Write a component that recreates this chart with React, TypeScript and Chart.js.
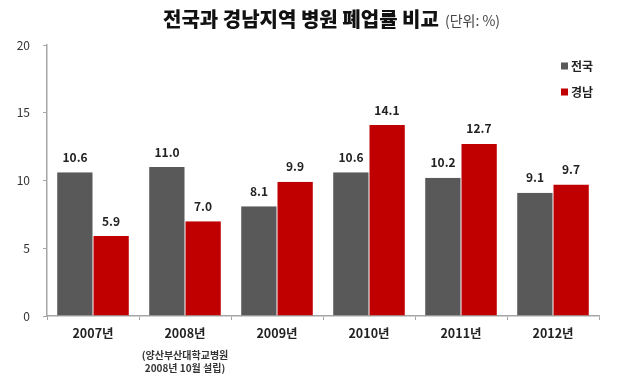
import React, { useEffect, useRef } from "react";
import { Chart, registerables } from "chart.js";

Chart.register(...registerables);

const categories = ["2007년", "2008년", "2009년", "2010년", "2011년", "2012년"];
const nationalValues = [10.6, 11.0, 8.1, 10.6, 10.2, 9.1];
const gyeongnamValues = [5.9, 7.0, 9.9, 14.1, 12.7, 9.7];
const seriesNames = ["전국", "경남"];
const yTicks = [0, 5, 10, 15, 20];
const titleText = "전국과 경남지역 병원 폐업률 비교";
const unitText = "(단위: %)";
const noteLines = ["(양산부산대학교병원", "2008년 10월 설립)"];

const GRAY = "#595959";
const RED = "#c00000";
const FONT = "'Noto Sans CJK KR', 'Noto Sans', sans-serif";

export default function App() {
  const ref = useRef<HTMLCanvasElement | null>(null);

  useEffect(() => {
    const canvas = ref.current;
    if (!canvas) return;

    const overlay = {
      id: "overlay",
      afterDatasetsDraw(chart: any) {
        const ctx = chart.ctx;
        ctx.save();
        // data labels
        ctx.font = `bold 12px ${FONT}`;
        ctx.fillStyle = "#222";
        ctx.textAlign = "center";
        ctx.textBaseline = "middle";
        chart.data.datasets.forEach((ds: any, di: number) => {
          const meta = chart.getDatasetMeta(di);
          meta.data.forEach((bar: any, i: number) => {
            ctx.fillText(Number(ds.data[i]).toFixed(1), bar.x, bar.y - 15);
          });
        });
        // title
        ctx.textAlign = "left";
        ctx.font = `900 20px ${FONT}`;
        ctx.fillStyle = "#111";
        ctx.fillText(titleText, 163, 19);
        const tw = ctx.measureText(titleText).width;
        ctx.font = `14px ${FONT}`;
        ctx.fillStyle = "#444";
        ctx.fillText(unitText, 163 + tw + 6, 21);
        // legend
        const colors = [GRAY, RED];
        seriesNames.forEach((name, i) => {
          const cy = 66 + i * 26;
          ctx.fillStyle = colors[i];
          ctx.fillRect(561, cy - 3.5, 7, 7);
          ctx.font = `bold 12px ${FONT}`;
          ctx.fillStyle = "#222";
          ctx.fillText(name, 571, cy);
        });
        // note under 2008
        const xs = chart.scales.x;
        const nx = xs.getPixelForValue(1);
        ctx.textAlign = "center";
        ctx.font = `bold 10px ${FONT}`;
        ctx.fillStyle = "#333";
        noteLines.forEach((line, i) => {
          ctx.fillText(line, nx, 355 + i * 13);
        });
        ctx.restore();
      },
    };

    const chart = new Chart(canvas, {
      type: "bar",
      data: {
        labels: categories,
        datasets: [
          {
            label: seriesNames[0],
            data: nationalValues,
            backgroundColor: GRAY,
            borderColor: "#ffffff",
            borderWidth: { left: 0, right: 0.5, top: 0, bottom: 0 } as any,
            categoryPercentage: 0.78,
            barPercentage: 1,
          },
          {
            label: seriesNames[1],
            data: gyeongnamValues,
            backgroundColor: RED,
            borderColor: "#ffffff",
            borderWidth: { left: 0.5, right: 0, top: 0, bottom: 0 } as any,
            categoryPercentage: 0.78,
            barPercentage: 1,
          },
        ],
      },
      options: {
        animation: false,
        responsive: false,
        maintainAspectRatio: false,
        layout: { padding: { top: 45, right: 31, left: 0, bottom: 0 } },
        plugins: {
          legend: { display: false },
          title: { display: false },
          tooltip: { enabled: false },
        },
        scales: {
          x: {
            grid: {
              display: true,
              drawOnChartArea: false,
              drawTicks: true,
              tickLength: 4,
              color: "#a6a6a6",
              offset: true,
            },
            border: { display: true, color: "#a6a6a6", width: 1.5 },
            ticks: {
              font: { family: FONT, size: 12.5, weight: "bold" },
              color: "#222",
              padding: 6,
              maxRotation: 0,
            },
            afterFit(scale: any) {
              scale.height = 71;
            },
          },
          y: {
            min: 0,
            max: 20,
            afterBuildTicks(scale: any) {
              scale.ticks = yTicks.map((v) => ({ value: v }));
            },
            grid: {
              display: true,
              drawOnChartArea: false,
              drawTicks: true,
              tickLength: 4,
              color: "#a6a6a6",
            },
            border: { display: true, color: "#a6a6a6", width: 1.5 },
            ticks: {
              font: { family: FONT, size: 12 },
              color: "#333",
              padding: 13,
            },
            afterFit(scale: any) {
              scale.width = 47;
            },
          },
        },
      },
      plugins: [overlay],
    });

    return () => chart.destroy();
  }, []);

  return (
    <div style={{ position: "absolute", left: 0, top: 0, width: 630, height: 387, background: "#fff" }}>
      <canvas ref={ref} width={630} height={387} style={{ width: 630, height: 387, display: "block" }} />
    </div>
  );
}
